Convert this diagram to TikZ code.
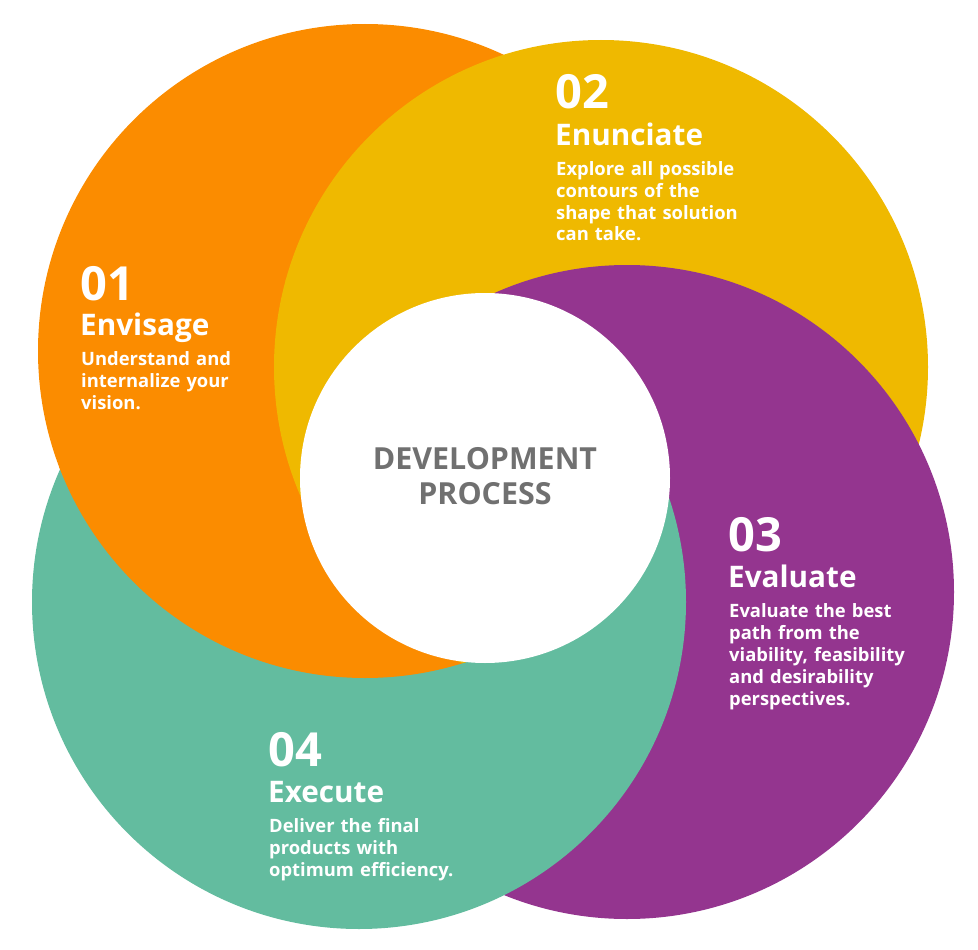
\documentclass[tikz,border=0pt]{standalone}
\usepackage{fontspec}
\setmainfont{Open Sans}
\definecolor{envOrange}{HTML}{FB8C00}
\definecolor{envYellow}{HTML}{EFB900}
\definecolor{envPurple}{HTML}{94358F}
\definecolor{envGreen}{HTML}{63BC9F}
\definecolor{hubGray}{HTML}{707070}

\begin{document}
\begin{tikzpicture}[x=1pt,y=-1pt,
  num/.style={anchor=base west, inner sep=0, text=white, font=\bfseries\fontsize{47}{47}\selectfont},
  ttl/.style={anchor=base west, inner sep=0, text=white, font=\bfseries\fontsize{29.7}{29.7}\selectfont},
  desc/.style={anchor=base west, inner sep=0, text=white, text width=260pt, align=left, font=\bfseries\fontsize{18.4}{22}\selectfont}]
\useasboundingbox (0,0) rectangle (978,950);

\coordinate (envisage) at (365,351);
\coordinate (enunciate) at (601,367);
\coordinate (evaluate) at (627,592);
\coordinate (execute) at (359,602);
\coordinate (hub) at (485,478);

\fill[envOrange] (envisage) circle [radius=327pt];
\fill[envYellow] (enunciate) circle [radius=327pt];
\fill[envPurple] (evaluate) circle [radius=327pt];
\fill[envGreen] (execute) circle [radius=327pt];
% orange over green
\begin{scope}
  \clip (execute) circle [radius=329pt];
  \fill[envOrange] (envisage) circle [radius=327pt];
\end{scope}
% yellow back over orange
\begin{scope}
  \clip (execute) circle [radius=331pt];
  \clip (envisage) circle [radius=327pt];
  \fill[envYellow] (enunciate) circle [radius=327pt];
\end{scope}
\fill[white] (hub) circle [radius=185pt];

\node[text=hubGray, anchor=base, inner sep=0, text width=300pt, align=center,
  font=\bfseries\fontsize{30.4}{34.7}\selectfont] (hubtitle) at (485,469.3) {DEVELOPMENT\\PROCESS};

\node[num] (num1) at (80,300) {01};
\node[ttl] (ttl1) at (80,335) {Envisage};
\node[desc] (desc1) at (81,365.7) {Understand and\\internalize your\\vision.};

\node[num] (num2) at (555,108) {02};
\node[ttl] (ttl2) at (555,145) {Enunciate};
\node[desc] (desc2) at (556,175) {Explore all possible\\contours of the\\shape that solution\\can take.};

\node[num] (num3) at (728,551) {03};
\node[ttl] (ttl3) at (728,587) {Evaluate};
\node[desc] (desc3) at (729,617) {Evaluate the best\\path from the\\viability, feasibility\\and desirability\\perspectives.};

\node[num] (num4) at (268,766) {04};
\node[ttl] (ttl4) at (268,802) {Execute};
\node[desc] (desc4) at (269,832) {Deliver the final\\products with\\optimum efficiency.};
\end{tikzpicture}
\end{document}
